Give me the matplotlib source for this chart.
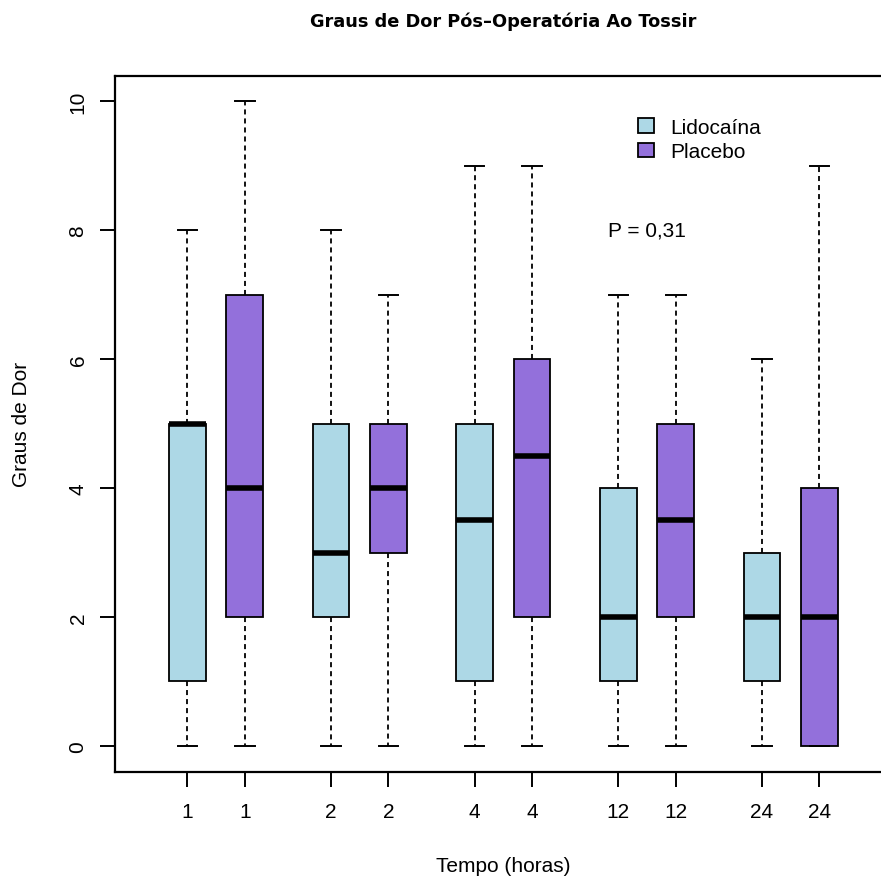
import matplotlib
matplotlib.use("Agg")
import matplotlib.pyplot as plt
from matplotlib.patches import Patch

plt.rcParams['font.family'] = ['Liberation Sans', 'DejaVu Sans']

# data (min, q1, median, q3, max)
tick_labels = ["1", "1", "2", "2", "4", "4", "12", "12", "24", "24"]
positions = [1, 2, 3.5, 4.5, 6, 7, 8.5, 9.5, 11, 12]
groups = ["Lidocaína", "Placebo"] * 5
mins = [0, 0, 0, 0, 0, 0, 0, 0, 0, 0]
q1s = [1, 2, 2, 3, 1, 2, 1, 2, 1, 0]
medians = [5, 4, 3, 4, 3.5, 4.5, 2, 3.5, 2, 2]
q3s = [5, 7, 5, 5, 5, 6, 4, 5, 3, 4]
maxs = [8, 10, 8, 7, 9, 9, 7, 7, 6, 9]
colors = {"Lidocaína": "#ADD8E6", "Placebo": "#9370DB"}

W, H = 881, 879
fig = plt.figure(figsize=(W / 100, H / 100), dpi=100)
ax = fig.add_axes([114.7 / W, 1 - 772.7 / H, (892 - 114.7) / W, (772.7 - 76.7) / H])

stats = []
for i in range(len(positions)):
    stats.append(dict(whislo=mins[i], q1=q1s[i], med=medians[i], q3=q3s[i],
                      whishi=maxs[i], fliers=[]))

bp = ax.bxp(stats, positions=positions, widths=0.64, capwidths=0.34,
            patch_artist=True, showfliers=False,
            boxprops=dict(linewidth=1.3, edgecolor="black"),
            whiskerprops=dict(linestyle=(0, (2.8, 2.2)), linewidth=1.3, color="black"),
            capprops=dict(linewidth=1.4, color="black"),
            medianprops=dict(linewidth=4.0, color="black", solid_capstyle="butt"))
for patch, g in zip(bp["boxes"], groups):
    patch.set_facecolor(colors[g])

ax.set_xlim(-0.263, 13.263)
ax.set_ylim(-0.4, 10.4)
ax.set_xticks(positions)
ax.set_xticklabels(tick_labels)
ax.set_yticks([0, 2, 4, 6, 8, 10])
ax.set_yticklabels(["0", "2", "4", "6", "8", "10"], rotation=90, va="center")
ax.tick_params(axis="both", length=10.5, width=1.4, labelsize=15, pad=11)
ax.tick_params(axis="y", pad=9)
for s in ax.spines.values():
    s.set_linewidth(1.6)

ax.text(9, 8, "P = 0,31", ha="center", va="center", fontsize=15)

handles = [Patch(facecolor=colors[g], edgecolor="black", linewidth=1.3) for g in ["Lidocaína", "Placebo"]]
fig.legend(handles, ["Lidocaína", "Placebo"], loc="upper left",
           bbox_to_anchor=(619 / W, 1 - 100 / H), frameon=False, fontsize=15,
           handlelength=0.77, handleheight=0.67, handletextpad=0.8, labelspacing=0.25)

fig.text(503 / W, 1 - 22 / H, "Graus de Dor Pós–Operatória Ao Tossir", ha="center", va="center",
         fontsize=12.8, fontweight="bold", family="DejaVu Sans")
fig.text(503 / W, 1 - 867 / H, "Tempo (horas)", ha="center", va="center", fontsize=15)
fig.text(22 / W, 1 - 424 / H, "Graus de Dor", ha="center", va="center", rotation=90, fontsize=15)

fig.savefig("out.png", dpi=100)
